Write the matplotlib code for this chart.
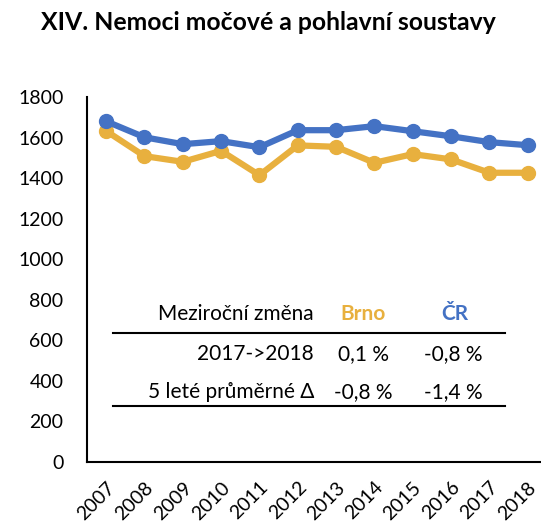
#!/usr/bin/env python3

import matplotlib
matplotlib.use('Agg')
import matplotlib.pyplot as plt

plt.rcParams['font.family'] = ['Lato', 'DejaVu Sans']

years = ['2007', '2008', '2009', '2010', '2011', '2012',
         '2013', '2014', '2015', '2016', '2017', '2018']
brno = [1633, 1509, 1481, 1535, 1415, 1562, 1555, 1476, 1519, 1493, 1427, 1427]
cr = [1681, 1602, 1568, 1583, 1553, 1637, 1637, 1657, 1632, 1607, 1578, 1563]

title = 'XIV. Nemoci močové a pohlavní soustavy'
tab_head = ['Meziroční změna', 'Brno', 'ČR']
tab_rows = [['2017->2018', '0,1 %', '-0,8 %'],
            ['5 leté průměrné Δ', '-0,8 %', '-1,4 %']]

BLUE = '#4472C4'
GOLD = '#E8B03E'

fig = plt.figure(figsize=(5.41, 5.28), dpi=100)
ax = fig.add_axes([0.1608, 0.125, 0.850, 0.691])

x = list(range(len(years)))
ax.plot(x, brno, color=GOLD, lw=4.5, marker='o', ms=10, solid_capstyle='round')
ax.plot(x, cr, color=BLUE, lw=4.5, marker='o', ms=10, solid_capstyle='round')

ax.set_xlim(-0.5, len(years) - 0.5)
ax.set_ylim(0, 1800)
ax.set_yticks(range(0, 1801, 200))
ax.set_xticks(x)
ax.set_xticklabels(years, rotation=45, ha='right', va='top', rotation_mode='anchor')
ax.tick_params(length=0, labelsize=14)
ax.tick_params(axis='y', pad=17)
ax.tick_params(axis='x', pad=12)
for s in ['top', 'right']:
    ax.spines[s].set_visible(False)
for s in ['left', 'bottom']:
    ax.spines[s].set_linewidth(1.5)

fig.text(0.496, 0.958, title, ha='center', va='center', fontsize=17.8, fontweight='bold')

# table inside the plot, in pixel coords of the figure
def fx(px):
    return px / 541

def fy(py):
    return 1 - py / 528

FS = 15
fig.text(fx(314), fy(314), tab_head[0], ha='right', va='center', fontsize=FS)
fig.text(fx(363), fy(314), tab_head[1], ha='center', va='center', fontsize=FS,
         color=GOLD, fontweight='bold')
fig.text(fx(455), fy(314), tab_head[2], ha='center', va='center', fontsize=FS,
         color=BLUE, fontweight='bold')
for row, py in zip(tab_rows, [354, 392]):
    fig.text(fx(314), fy(py), row[0], ha='right', va='center', fontsize=FS)
    fig.text(fx(363), fy(py), row[1], ha='center', va='center', fontsize=FS)
    fig.text(fx(453), fy(py), row[2], ha='center', va='center', fontsize=FS)

fig.add_artist(plt.Line2D([fx(113), fx(505)], [fy(333), fy(333)], color='black', lw=1.5))
fig.add_artist(plt.Line2D([fx(113), fx(505)], [fy(406), fy(406)], color='black', lw=1.5))

fig.savefig('out.png', dpi=100)
